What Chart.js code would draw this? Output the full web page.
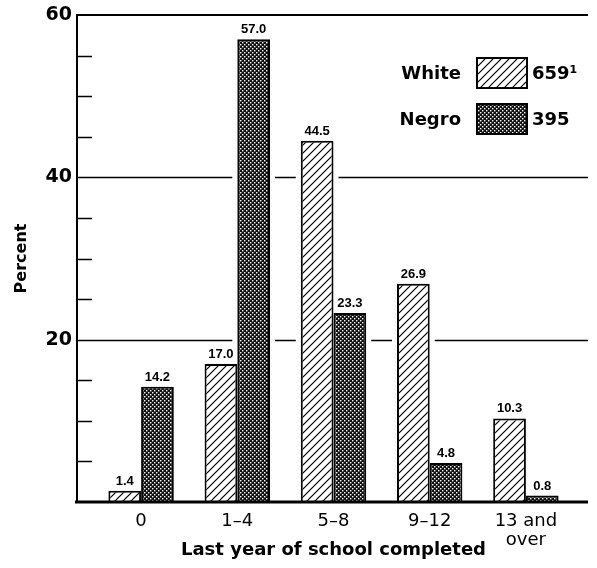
<!DOCTYPE html>
<html>
<head>
<meta charset="utf-8">
<script src="https://cdn.jsdelivr.net/npm/chart.js@4.4.0/dist/chart.umd.min.js"></script>
<style>
	body { margin: 0; background: #fff; }
	#wrap { width: 597px; height: 568px; position: relative; }
</style>
</head>
<body>
<div id="wrap"><canvas id="chart"></canvas></div>
<script>
const Categories = [ "0", "1–4", "5–8", "9–12", [ "13 and", "over" ] ];
const WhiteValues = [ 1.4, 17.0, 44.5, 26.9, 10.3 ];
const NegroValues = [ 14.2, 57.0, 23.3, 4.8, 0.8 ];
const SeriesNames = [ "White", "Negro" ];
const SeriesCounts = [ "659¹", "395" ];
const YLabelled = [ 20, 40, 60 ];

const canvas = document.getElementById("chart");

function MakeHatch()
{
	const c = document.createElement("canvas");
	c.width = 8;
	c.height = 8;
	const g = c.getContext("2d");
	g.fillStyle = "#fff";
	g.fillRect(0, 0, 8, 8);
	g.strokeStyle = "#000";
	g.lineWidth = 1.2;
	g.beginPath();
	g.moveTo(-1, 9); g.lineTo(9, -1);
	g.moveTo(-1, 1); g.lineTo(1, -1);
	g.moveTo(7, 9); g.lineTo(9, 7);
	g.stroke();
	return canvas.getContext("2d").createPattern(c, "repeat");
}

function MakeDots()
{
	const c = document.createElement("canvas");
	c.width = 4;
	c.height = 4;
	const g = c.getContext("2d");
	g.fillStyle = "#111";
	g.fillRect(0, 0, 4, 4);
	g.fillStyle = "#fff";
	g.fillRect(0, 0, 1.4, 1.4);
	g.fillRect(2, 2, 1.4, 1.4);
	return canvas.getContext("2d").createPattern(c, "repeat");
}

const frame = {
	id: "frame",
	beforeDatasetsDraw(chart)
	{
		const { ctx, chartArea: { left, right }, scales: { y } } = chart;
		const x0 = left - 16, x1 = right + 14;
		ctx.save();
		ctx.strokeStyle = "#000";
		ctx.lineWidth = 1.5;
		for (const v of [ 20, 40 ])
		{
			const py = Math.round(y.getPixelForValue(v)) + 0.5;
			ctx.beginPath();
			ctx.moveTo(x0, py);
			ctx.lineTo(x1, py);
			ctx.stroke();
		}
			// white clearance round the bars
		ctx.fillStyle = "#fff";
		for (let d = 0; d < chart.data.datasets.length; d++)
			for (const bar of chart.getDatasetMeta(d).data)
				ctx.fillRect(bar.x - bar.width / 2 - 5, bar.y - 1, bar.width + 10, bar.base - bar.y + 1);
		ctx.restore();
	},
	afterDatasetsDraw(chart)
	{
		const { ctx, chartArea: { left, right, top, bottom }, scales: { y } } = chart;
		const x0 = left - 16, x1 = right + 14;
		ctx.save();
		ctx.strokeStyle = "#000";

			// left axis, top line
		ctx.lineWidth = 2;
		ctx.beginPath();
		ctx.moveTo(x0, bottom);
		ctx.lineTo(x0, top);
		ctx.lineTo(x1, top);
		ctx.stroke();

			// minor ticks every 5
		ctx.lineWidth = 1.5;
		for (let v = 5; v < 60; v += 5)
		{
			if (YLabelled.includes(v))
				continue;
			const py = Math.round(y.getPixelForValue(v)) + 0.5;
			ctx.beginPath();
			ctx.moveTo(x0, py);
			ctx.lineTo(x0 + 15, py);
			ctx.stroke();
		}

			// baseline
		ctx.lineWidth = 3;
		ctx.beginPath();
		ctx.moveTo(x0 - 2, bottom);
		ctx.lineTo(x1, bottom);
		ctx.stroke();

			// value labels
		ctx.fillStyle = "#000";
		ctx.font = "bold 13px 'Liberation Sans'";
		ctx.textAlign = "center";
		ctx.textBaseline = "alphabetic";
		for (let d = 0; d < chart.data.datasets.length; d++)
		{
			const ds = chart.data.datasets[d];
			chart.getDatasetMeta(d).data.forEach((bar, i) =>
			{
				ctx.fillText(ds.data[i].toFixed(1), bar.x, bar.y - 6);
			});
		}

			// legend
		ctx.font = "bold 18px 'DejaVu Sans'";
		ctx.textBaseline = "middle";
		const sx = right - 97;
		for (let d = 0; d < chart.data.datasets.length; d++)
		{
			const ds = chart.data.datasets[d];
			const sy = top + 43 + d * 46;
			ctx.fillStyle = ds.backgroundColor;
			ctx.fillRect(sx, sy, 50, 30);
			ctx.lineWidth = 2;
			ctx.strokeRect(sx, sy, 50, 30);
			ctx.fillStyle = "#000";
			ctx.textAlign = "right";
			ctx.fillText(SeriesNames[d], sx - 16, sy + 16);
			ctx.textAlign = "left";
			ctx.fillText(SeriesCounts[d], sx + 55, sy + 16);
		}
		ctx.restore();
	}
};

Chart.defaults.font.family = "'DejaVu Sans'";
Chart.defaults.color = "#000";

new Chart(canvas, {
	type: "bar",
	data: {
		labels: Categories,
		datasets: [{
			label: SeriesNames[0],
			data: WhiteValues,
			backgroundColor: MakeHatch(),
			borderColor: "#000",
			borderWidth: 2,
		},
		{
			label: SeriesNames[1],
			data: NegroValues,
			backgroundColor: MakeDots(),
			borderColor: "#000",
			borderWidth: 2,
		}]
	},
	options: {
		responsive: true,
		maintainAspectRatio: false,
		animation: false,
		layout: {
			padding: { top: 15, right: 23, left: 0, bottom: 0 }
		},
		datasets: {
			bar: {
				categoryPercentage: 0.68,
				barPercentage: 1.0,
			}
		},
		plugins: {
			legend: { display: false },
			tooltip: { enabled: false },
		},
		scales: {
			x: {
				grid: { display: false, drawTicks: false },
				border: { display: false },
				ticks: {
					font: { size: 18, lineHeight: 1.1 },
					padding: 9,
					maxRotation: 0,
					autoSkip: false,
				},
				title: {
					display: true,
					text: "Last year of school completed",
					font: { size: 18, weight: "bold" },
					padding: 7,
				},
				afterFit(scale)
				{
					scale.height = 66;
					scale.paddingLeft = 0;
					scale.paddingRight = 0;
				},
			},
			y: {
				min: 0,
				max: 60,
				grid: { display: false, drawTicks: false },
				border: { display: false },
				ticks: {
					stepSize: 5,
					autoSkip: false,
					padding: 21,
					font: { size: 19, weight: "bold" },
					callback: v => YLabelled.includes(v) ? String(v) : "",
				},
				title: {
					display: true,
					text: "Percent",
					font: { size: 16, weight: "bold" },
					padding: 12,
				},
				afterFit(scale)
				{
					scale.width = 93;
					scale.paddingTop = 0;
					scale.paddingBottom = 0;
				},
			}
		}
	},
	plugins: [ frame ],
});
</script>
</body>
</html>
